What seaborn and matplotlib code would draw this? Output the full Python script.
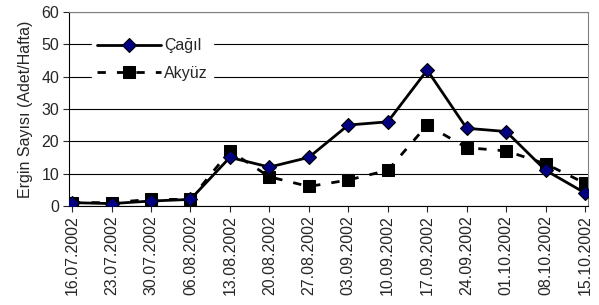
import pandas as pd
import numpy as np
import matplotlib.pyplot as plt
import seaborn as sns

dates = ['16.07.2002', '23.07.2002', '30.07.2002', '06.08.2002', '13.08.2002',
         '20.08.2002', '27.08.2002', '03.09.2002', '10.09.2002', '17.09.2002',
         '24.09.2002', '01.10.2002', '08.10.2002', '15.10.2002']
cagil = [1, 0.7, 1.5, 2, 15, 12, 15, 25, 26, 42, 24, 23, 11, 4]
akyuz = [1, 1, 2, 2, 17, 9, 6, 8, 11, 25, 18, 17, 13, 7]

df = pd.DataFrame({'x': np.arange(len(dates)), 'Çağıl': cagil, 'Akyüz': akyuz})

sns.set_style("white")
plt.rcParams['font.family'] = ['Liberation Sans', 'DejaVu Sans']

fig = plt.figure(figsize=(5.99, 3.05), dpi=100)
ax = fig.add_axes([0.115, 0.325, 0.867, 0.636])

sns.lineplot(data=df, x='x', y='Çağıl', ax=ax, color='black', lw=2,
             marker='D', markersize=7, markerfacecolor='#000080',
             markeredgecolor='black', markeredgewidth=0.8, label='Çağıl', zorder=3)
sns.lineplot(data=df, x='x', y='Akyüz', ax=ax, color='black', lw=2,
             linestyle=(0, (3, 4)), marker='s', markersize=8,
             markerfacecolor='black', markeredgecolor='black', label='Akyüz', zorder=2)

ax.set_ylim(0, 60)
ax.set_xlim(-0.08, 13.08)
ax.set_yticks(range(0, 61, 10))
ax.set_xticks(df['x'])
ax.set_xticklabels(dates, rotation=90, fontsize=11.5)
ax.tick_params(axis='y', labelsize=11.5, length=4, direction='out', left=True, pad=3)
ax.tick_params(axis='x', length=4, direction='out', bottom=True, pad=3)
ax.yaxis.grid(True, color='black', lw=0.8)
ax.set_axisbelow(True)
ax.set_xlabel('')
ax.set_ylabel('Ergin Sayısı (Adet/Hafta)', fontsize=11.5, labelpad=6)

for s in ['top', 'right']:
    ax.spines[s].set_color('#808080')
for s in ['left', 'bottom']:
    ax.spines[s].set_color('black')

leg = ax.legend(loc='upper left', bbox_to_anchor=(0.03, 0.93), frameon=True,
                fancybox=False, edgecolor='white', framealpha=1, fontsize=11.5,
                handlelength=4, borderpad=0.3, labelspacing=0.8, handletextpad=0.2)

fig.savefig('out.png', dpi=100)
